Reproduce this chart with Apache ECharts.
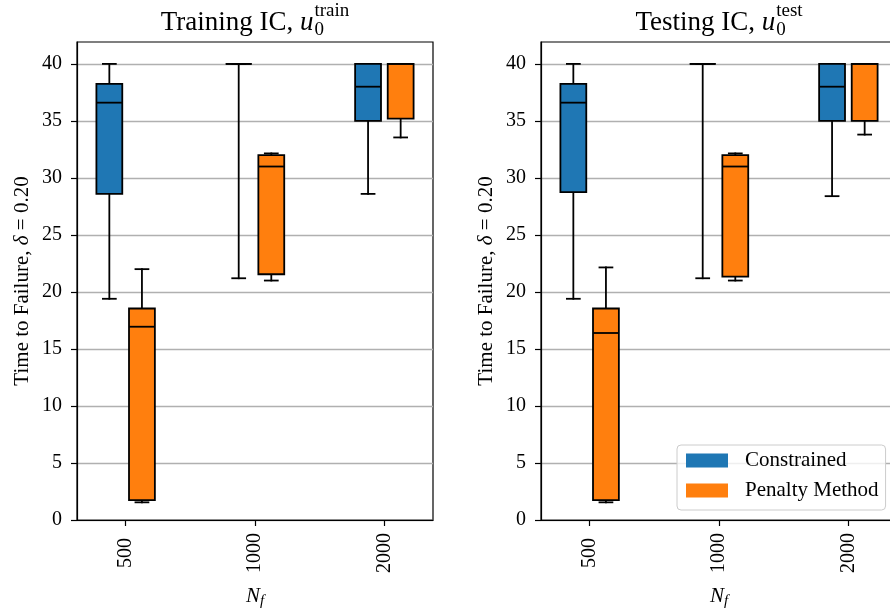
<!DOCTYPE html>
<html>
<head>
<meta charset="utf-8">
<script src="https://cdn.jsdelivr.net/npm/echarts@6/dist/echarts.min.js"></script>
<style>
html,body{margin:0;padding:0;background:#fff;}
#main{width:890px;height:609px;}
</style>
</head>
<body>
<div id="main"></div>
<script>
// ---- data ----
const categories = ['500', '1000', '2000'];
// each row: [min, q1, median, q3, max]
const trainConstrained = [[19.4, 28.6, 36.6, 38.25, 40], [21.2, 40, 40, 40, 40], [28.6, 35.0, 38.0, 40, 40]];
const trainPenalty = [[1.55, 1.75, 16.95, 18.55, 22.0], [21.0, 21.55, 31.0, 32.0, 32.15], [33.55, 35.2, 40, 40, 40]];
const testConstrained = [[19.4, 28.75, 36.6, 38.25, 40], [21.2, 40, 40, 40, 40], [28.4, 35.0, 38.0, 40, 40]];
const testPenalty = [[1.55, 1.75, 16.4, 18.55, 22.15], [21.0, 21.35, 31.0, 32.0, 32.15], [33.8, 35.0, 40, 40, 40]];
const yTicks = [0, 5, 10, 15, 20, 25, 30, 35, 40];
const seriesNames = ['Constrained', 'Penalty Method'];

const BLUE = '#1f77b4', ORANGE = '#ff7f0e';
const FONT = '"Liberation Serif", "Times New Roman", serif';
const TICK_FS = 20, LABEL_FS = 21, TITLE_FS = 27, LEGEND_FS = 21;
const LW = 1.8;

const chart = echarts.init(document.getElementById('main'), null, {renderer: 'canvas'});

function boxSeries(name, rows, gridIdx, offset, color) {
  return {
    type: 'custom',
    name: name,
    xAxisIndex: gridIdx,
    yAxisIndex: gridIdx,
    itemStyle: {color: color},
    clip: false,
    data: rows.map((r, i) => [i].concat(r)),
    renderItem: function (params, api) {
      const x = api.value(0) + offset;
      const vMin = api.value(1), q1 = api.value(2), med = api.value(3), q3 = api.value(4), vMax = api.value(5);
      const halfW = api.size([0.1, 0])[0];
      const capHalf = api.size([0.05, 0])[0];
      const pMin = api.coord([x, vMin]);
      const pQ1 = api.coord([x, q1]);
      const pMed = api.coord([x, med]);
      const pQ3 = api.coord([x, q3]);
      const pMax = api.coord([x, vMax]);
      const cx = pMin[0];
      const ls = {stroke: '#000', lineWidth: LW, lineCap: 'square'};
      return {
        type: 'group',
        children: [
          {type: 'line', shape: {x1: cx, y1: pQ1[1], x2: cx, y2: pMin[1]}, style: ls},
          {type: 'line', shape: {x1: cx, y1: pQ3[1], x2: cx, y2: pMax[1]}, style: ls},
          {type: 'line', shape: {x1: cx - capHalf, y1: pMin[1], x2: cx + capHalf, y2: pMin[1]}, style: ls},
          {type: 'line', shape: {x1: cx - capHalf, y1: pMax[1], x2: cx + capHalf, y2: pMax[1]}, style: ls},
          {type: 'rect', shape: {x: cx - halfW, y: pQ3[1], width: 2 * halfW, height: pQ1[1] - pQ3[1]},
            style: {fill: color, stroke: '#000', lineWidth: LW}},
          {type: 'line', shape: {x1: cx - halfW, y1: pMed[1], x2: cx + halfW, y2: pMed[1]}, style: {stroke: '#000', lineWidth: LW}}
        ]
      };
    }
  };
}

const grids = [
  {left: 77, top: 42, width: 356, height: 478},
  {left: 541, top: 42, width: 356, height: 478}
];

function xAxis(gi) {
  return {
    type: 'value', gridIndex: gi, min: -0.376, max: 2.376,
    name: '{i|N}{s|f}', nameLocation: 'middle', nameGap: 64,
    nameTextStyle: {rich: {
      i: {fontFamily: FONT, fontStyle: 'italic', fontSize: LABEL_FS, color: '#000'},
      s: {fontFamily: FONT, fontStyle: 'italic', fontSize: 15, color: '#000', padding: [10, 0, 0, 0]}
    }},
    axisLine: {show: true, onZero: false, lineStyle: {color: '#000', width: 1.2}},
    axisTick: {show: true, length: 6, lineStyle: {color: '#000', width: 1.2}, customValues: [0, 1, 2]},
    axisLabel: {customValues: [0, 1, 2], rotate: 90, align: 'center', verticalAlign: 'middle', margin: 33,
      fontFamily: FONT, fontSize: TICK_FS, color: '#000',
      formatter: v => categories[Math.round(v)]},
    splitLine: {show: false}
  };
}
function yAxis(gi) {
  return {
    type: 'value', gridIndex: gi, min: 0, max: 41.92, interval: 5,
    name: '{n|Time to Failure, }{i|δ}{n| = 0.20}', nameLocation: 'middle', nameGap: 44, nameRotate: 90,
    nameTextStyle: {rich: {
      n: {fontFamily: FONT, fontSize: LABEL_FS, color: '#000'},
      i: {fontFamily: FONT, fontStyle: 'italic', fontSize: LABEL_FS, color: '#000'}
    }},
    axisLine: {show: true, onZero: false, lineStyle: {color: '#000', width: 1.2}},
    axisTick: {show: true, length: 6, lineStyle: {color: '#000', width: 1.2}, customValues: yTicks},
    axisLabel: {customValues: yTicks, margin: 15, fontFamily: FONT, fontSize: TICK_FS, color: '#000'},
    splitLine: {show: true, lineStyle: {color: '#b0b0b0', width: 1.3}}
  };
}

// ---- titles as text with sub/superscripts ----
const mctx = document.createElement('canvas').getContext('2d');
function measure(txt, font) { mctx.font = font; return mctx.measureText(txt).width; }
function titleElems(cx, main, sup) {
  const fMain = TITLE_FS + 'px ' + FONT;
  const fIt = 'italic ' + TITLE_FS + 'px ' + FONT;
  const small = Math.round(TITLE_FS * 0.7);
  const fSmall = small + 'px ' + FONT;
  const w1 = measure(main, fMain), wu = measure('u', fIt), ws = measure('0', fSmall), wp = measure(sup, fSmall);
  const total = w1 + wu + 1 + Math.max(ws, wp);
  const x0 = cx - total / 2;
  const base = 36;
  return [
    {type: 'text', x: x0, y: base, style: {text: main, font: fMain, fill: '#000', verticalAlign: 'bottom'}},
    {type: 'text', x: x0 + w1, y: base, style: {text: 'u', font: fIt, fill: '#000', verticalAlign: 'bottom'}},
    {type: 'text', x: x0 + w1 + wu + 1, y: base + 4, style: {text: '0', font: fSmall, fill: '#000', verticalAlign: 'bottom'}},
    {type: 'text', x: x0 + w1 + wu + 1, y: base - 15, style: {text: sup, font: fSmall, fill: '#000', verticalAlign: 'bottom'}}
  ];
}
const gfx = [].concat(
  titleElems(77 + 178, 'Training IC, ', 'train'),
  titleElems(541 + 178, 'Testing IC, ', 'test')
);

chart.setOption({
  animation: false,
  backgroundColor: '#fff',
  grid: grids.map(g => Object.assign({show: true, borderColor: '#000', borderWidth: 1.2, backgroundColor: 'transparent',
    containLabel: false, outerBoundsMode: 'none'}, g)),
  xAxis: [xAxis(0), xAxis(1)],
  yAxis: [yAxis(0), yAxis(1)],
  legend: {
    data: seriesNames,
    orient: 'vertical', left: 677, top: 445,
    padding: [5, 7, 9, 9],
    itemWidth: 42, itemHeight: 14, itemGap: 9,
    icon: 'rect',
    backgroundColor: 'rgba(255,255,255,0.8)', borderColor: '#cccccc', borderWidth: 1, borderRadius: 4,
    itemStyle: {borderWidth: 0},
    textStyle: {fontFamily: FONT, fontSize: LEGEND_FS, color: '#000', padding: [0, 0, 0, 12]}
  },
  graphic: gfx,
  series: [
    boxSeries(seriesNames[0], trainConstrained, 0, -0.126, BLUE),
    boxSeries(seriesNames[1], trainPenalty, 0, 0.126, ORANGE),
    boxSeries(seriesNames[0], testConstrained, 1, -0.126, BLUE),
    boxSeries(seriesNames[1], testPenalty, 1, 0.126, ORANGE)
  ]
});
</script>
</body>
</html>
